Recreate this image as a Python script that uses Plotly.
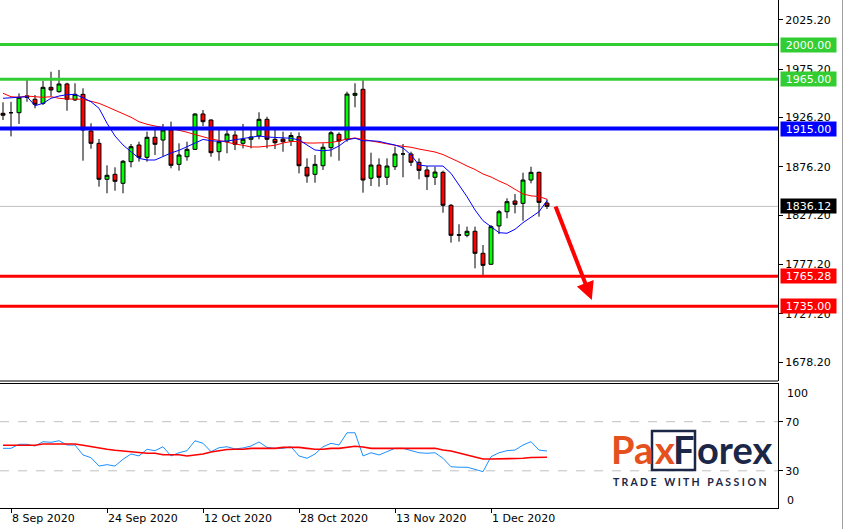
import pandas as pd
import plotly.graph_objects as go

# ---------------- data ----------------
dates = [d.strftime("%Y-%m-%d") for d in pd.bdate_range("2020-09-07", "2020-12-10")]

open_ = [1930.4, 1931.0, 1931.0, 1946.5, 1944.6, 1940.5, 1956.7, 1952.3, 1960.1, 1943.9,
         1949.6, 1912.5, 1900.0, 1863.6, 1868.6, 1859.5, 1881.4, 1898.3, 1885.8, 1906.1,
         1903.3, 1913.5, 1878.7, 1886.4, 1893.9, 1929.7, 1923.6, 1891.5, 1901.6, 1908.4,
         1900.0, 1904.1, 1907.4, 1924.3, 1904.1, 1904.3, 1902.3, 1906.7, 1875.7, 1868.6,
         1877.3, 1895.6, 1909.1, 1904.1, 1948.6, 1954.7, 1864.6, 1878.0, 1865.6, 1876.3,
         1889.2, 1889.2, 1880.8, 1873.0, 1865.6, 1870.6, 1837.2, 1807.4, 1806.8, 1810.9,
         1788.6, 1777.5, 1816.3, 1830.7, 1841.6, 1839.2, 1862.8, 1870.6, 1839.5]
high = [1941.5, 1942.0, 1950.6, 1964.1, 1948.9, 1963.4, 1972.5, 1974.3, 1961.4, 1960.8,
        1955.7, 1920.3, 1904.4, 1877.7, 1875.7, 1883.1, 1899.3, 1901.6, 1911.8, 1913.5,
        1919.6, 1921.9, 1900.0, 1901.6, 1930.4, 1933.7, 1924.3, 1914.2, 1914.2, 1912.8,
        1919.6, 1915.2, 1931.4, 1926.9, 1913.5, 1911.8, 1911.1, 1911.1, 1884.8, 1888.2,
        1900.0, 1912.5, 1911.1, 1952.3, 1960.8, 1964.1, 1890.5, 1884.8, 1884.8, 1896.6,
        1899.3, 1891.5, 1884.8, 1877.0, 1876.3, 1872.3, 1838.5, 1818.0, 1815.6, 1815.6,
        1797.0, 1817.3, 1832.5, 1844.3, 1848.7, 1870.2, 1876.3, 1871.3, 1843.3]
low = [1923.6, 1907.0, 1919.6, 1942.1, 1935.5, 1938.8, 1947.9, 1951.3, 1933.0, 1942.9,
       1882.4, 1894.5, 1856.1, 1849.4, 1852.0, 1849.4, 1875.7, 1881.4, 1881.4, 1888.2,
       1886.4, 1874.7, 1872.3, 1882.4, 1893.2, 1917.5, 1886.4, 1882.4, 1889.9, 1893.2,
       1894.9, 1894.9, 1904.1, 1894.9, 1894.2, 1891.5, 1897.3, 1869.6, 1860.1, 1860.1,
       1873.0, 1886.4, 1882.4, 1901.6, 1936.5, 1850.0, 1856.8, 1856.1, 1857.8, 1873.0,
       1865.6, 1877.0, 1863.6, 1852.7, 1857.8, 1829.7, 1799.4, 1800.4, 1804.8, 1773.4,
       1766.6, 1776.8, 1808.1, 1824.1, 1829.1, 1821.6, 1859.5, 1825.7, 1833.5]
close = [1928.4, 1931.0, 1946.6, 1948.0, 1939.5, 1956.7, 1954.0, 1960.1, 1944.6, 1949.6,
         1913.5, 1900.0, 1863.6, 1867.6, 1861.5, 1881.8, 1896.6, 1885.8, 1906.1, 1899.0,
         1913.5, 1877.7, 1888.2, 1893.9, 1929.7, 1921.9, 1890.5, 1901.6, 1909.4, 1899.0,
         1904.1, 1906.4, 1924.3, 1904.1, 1900.6, 1901.6, 1907.9, 1877.3, 1866.9, 1878.7,
         1896.0, 1910.7, 1902.3, 1949.9, 1950.6, 1862.8, 1878.0, 1865.6, 1877.0, 1889.2,
         1889.2, 1880.8, 1872.6, 1866.2, 1870.9, 1837.2, 1806.8, 1807.0, 1810.9, 1788.6,
         1776.4, 1815.6, 1830.7, 1840.9, 1838.2, 1862.8, 1870.6, 1840.2, 1836.2]

ma_fast = [1945.6, 1946.2, 1946.6, 1947.2, 1938.1, 1940.5, 1945.6, 1947.9, 1949.2, 1949.6,
           1946.2, 1942.1, 1935.5, 1920.3, 1907.4, 1898.3, 1891.5, 1884.8, 1883.1, 1883.1,
           1886.6, 1890.2, 1892.9, 1896.3, 1900.3, 1903.9, 1902.6, 1902.0, 1902.3, 1903.7,
           1905.1, 1906.4, 1907.4, 1906.4, 1906.1, 1905.7, 1905.1, 1903.4, 1898.3, 1893.2,
           1892.5, 1893.2, 1897.3, 1903.4, 1905.1, 1902.6, 1902.6, 1902.0, 1900.0, 1898.3,
           1895.3, 1888.2, 1878.0, 1877.0, 1877.0, 1877.0, 1869.6, 1857.8, 1845.9, 1832.5,
           1821.6, 1815.6, 1809.5, 1808.9, 1812.9, 1819.6, 1825.1, 1830.7, 1841.9]
ma_slow = [1950.7, 1947.2, 1946.6, 1947.9, 1947.2, 1946.6, 1947.2, 1945.6, 1944.9, 1944.9,
           1944.6, 1942.6, 1940.5, 1937.1, 1933.7, 1930.4, 1926.4, 1921.9, 1919.3, 1917.5,
           1916.2, 1915.2, 1913.2, 1911.2, 1908.9, 1906.7, 1904.4, 1902.9, 1900.8, 1899.3,
           1898.0, 1896.3, 1896.3, 1896.8, 1898.0, 1900.3, 1901.8, 1901.8, 1900.3, 1900.3,
           1900.3, 1900.8, 1902.3, 1904.4, 1905.4, 1903.9, 1902.0, 1900.3, 1899.0, 1898.0,
           1897.0, 1896.0, 1894.2, 1892.6, 1891.2, 1888.6, 1885.1, 1881.1, 1877.0, 1873.5,
           1868.9, 1865.9, 1861.8, 1858.3, 1853.4, 1848.7, 1846.8, 1846.1, 1843.3]

rsi = [48.3, 48.3, 51.6, 51.6, 50.2, 53.7, 53.2, 54.5, 51.0, 51.0,
       42.9, 40.7, 33.9, 35.0, 33.9, 39.4, 43.7, 42.1, 47.5, 46.4,
       49.6, 42.1, 44.7, 46.4, 54.5, 52.4, 45.6, 48.8, 49.6, 47.8,
       48.6, 50.2, 53.5, 49.1, 48.3, 48.3, 49.6, 42.1, 40.2, 43.7,
       49.6, 52.4, 51.0, 61.0, 61.0, 42.1, 44.7, 42.9, 45.6, 48.3,
       48.3, 46.4, 44.7, 44.3, 44.7, 40.2, 33.3, 32.9, 32.9, 31.2,
       29.3, 41.5, 44.7, 46.4, 46.9, 51.0, 53.7, 46.9, 46.1]
rsi_signal = [50.8, 50.8, 50.8, 50.8, 50.8, 51.8, 51.8, 51.8, 51.8, 51.8,
              50.8, 49.6, 48.8, 47.5, 46.7, 46.1, 45.1, 45.1, 44.3, 44.3,
              43.1, 43.1, 43.1, 42.1, 42.6, 43.7, 45.3, 46.4, 47.4, 47.5,
              47.5, 48.3, 48.3, 48.3, 48.3, 49.1, 49.1, 49.1, 48.3, 47.5,
              47.5, 48.3, 48.3, 49.1, 50.0, 49.4, 48.3, 48.3, 48.3, 48.3,
              48.3, 48.3, 48.3, 48.3, 48.3, 46.9, 46.1, 44.5, 42.9, 41.2,
              39.6, 39.6, 39.6, 39.6, 39.6, 40.2, 40.8, 41.0, 41.0]

level_values = [2000.00, 1965.00, 1915.00, 1765.28, 1735.00]
level_colors = ["#32CD32", "#32CD32", "#0000FF", "#FF0000", "#FF0000"]
level_widths = [3, 3, 4, 3, 3]
last_price = 1836.12

price_ticks = [1678.20, 1727.20, 1777.20, 1827.20, 1876.20, 1926.20, 1975.20, 2025.20]
date_ticks = ["2020-09-08", "2020-09-24", "2020-10-12", "2020-10-28", "2020-11-13", "2020-12-01"]
date_labels = ["8 Sep 2020", "24 Sep 2020", "12 Oct 2020", "28 Oct 2020", "13 Nov 2020", "1 Dec 2020"]

arrow_from = (69.0, 1837.5)   # (bar index, price)
arrow_to = (73.6, 1741.3)

# ---------------- geometry ----------------
W, H = 843, 529
PLOT_W, PLOT_H = 778, 508


def px(x):
    return x / PLOT_W


def py(y):
    return (PLOT_H - y) / PLOT_H


FONT = "DejaVu Sans"

fig = go.Figure()

fig.add_trace(go.Candlestick(
    x=dates, open=open_, high=high, low=low, close=close,
    increasing=dict(line=dict(color="black", width=1), fillcolor="#00FF00"),
    decreasing=dict(line=dict(color="black", width=1), fillcolor="#FF0000"),
    whiskerwidth=0, xaxis="x", yaxis="y", showlegend=False, hoverinfo="skip"))
fig.add_trace(go.Scatter(x=dates, y=ma_slow, mode="lines", line=dict(color="#FF0000", width=1),
                         xaxis="x", yaxis="y", showlegend=False, hoverinfo="skip"))
fig.add_trace(go.Scatter(x=dates, y=ma_fast, mode="lines", line=dict(color="#0000FF", width=1),
                         xaxis="x", yaxis="y", showlegend=False, hoverinfo="skip"))
fig.add_trace(go.Scatter(x=dates, y=rsi, mode="lines", line=dict(color="#1E90FF", width=1),
                         xaxis="x", yaxis="y2", showlegend=False, hoverinfo="skip"))
fig.add_trace(go.Scatter(x=dates, y=rsi_signal, mode="lines", line=dict(color="#FF0000", width=1.6),
                         xaxis="x", yaxis="y2", showlegend=False, hoverinfo="skip"))

shapes = []
# current price line
shapes.append(dict(type="line", xref="x domain", yref="y", x0=0, x1=1, y0=last_price, y1=last_price,
                   line=dict(color="#C0C0C0", width=1), layer="below"))
for v, c, w in zip(level_values, level_colors, level_widths):
    shapes.append(dict(type="line", xref="x domain", yref="y", x0=0, x1=1, y0=v, y1=v,
                       line=dict(color=c, width=w)))
# indicator levels
for v in (70, 30):
    shapes.append(dict(type="line", xref="x domain", yref="y2", x0=0, x1=1, y0=v, y1=v,
                       line=dict(color="#C0C0C0", width=1, dash="dash"), layer="below"))
# panel separators
shapes.append(dict(type="line", xref="paper", yref="paper", x0=0, x1=1, y0=py(381), y1=py(381),
                   line=dict(color="black", width=1)))
shapes.append(dict(type="line", xref="paper", yref="paper", x0=px(842.5), x1=px(842.5), y0=py(0), y1=py(529),
                   line=dict(color="#A0A0A0", width=1)))
# logo box
shapes.append(dict(type="rect", xref="paper", yref="paper", x0=px(652), x1=px(695), y0=py(470), y1=py(431),
                   line=dict(color="#1B2747", width=2.5)))

annotations = []
for v, c in zip(level_values, level_colors):
    annotations.append(dict(xref="paper", yref="y", x=px(780), y=v, xanchor="left", yanchor="middle",
                            text=f"{v:.2f}", showarrow=False, bgcolor=c, width=53, height=12, borderpad=1,
                            font=dict(family=FONT, size=11, color="white")))
annotations.append(dict(xref="paper", yref="y", x=px(780), y=last_price, xanchor="left", yanchor="middle",
                        text=f"{last_price:.2f}", showarrow=False, bgcolor="black", width=53, height=12,
                        borderpad=1, font=dict(family=FONT, size=11, color="white")))
# indicator extreme labels (placed inside like the terminal does)
annotations.append(dict(xref="paper", yref="paper", x=px(785), y=py(393), xanchor="left", yanchor="middle",
                        text="100", showarrow=False, font=dict(family=FONT, size=11, color="black")))
annotations.append(dict(xref="paper", yref="paper", x=px(785), y=py(500), xanchor="left", yanchor="middle",
                        text="0", showarrow=False, font=dict(family=FONT, size=11, color="black")))
# arrow
annotations.append(dict(xref="x", yref="y", axref="x", ayref="y", x=arrow_to[0], y=arrow_to[1],
                        ax=arrow_from[0], ay=arrow_from[1], text="", showarrow=True, arrowhead=2,
                        arrowsize=0.9, arrowwidth=4, arrowcolor="#FF0000"))
# logo
ORANGE, NAVY = "#E4501E", "#1B2747"
LOGO = dict(family="Lato", size=38, weight="bold")
annotations.append(dict(xref="paper", yref="paper", x=px(609), y=py(449), xanchor="left", yanchor="middle",
                        text="Pa", showarrow=False, font=dict(LOGO, color=ORANGE)))
annotations.append(dict(xref="paper", yref="paper", x=px(665), y=py(449), xanchor="center", yanchor="middle",
                        text="x", showarrow=False, font=dict(LOGO, color=ORANGE)))
annotations.append(dict(xref="paper", yref="paper", x=px(684), y=py(449), xanchor="center", yanchor="middle",
                        text="F", showarrow=False, font=dict(LOGO, color=NAVY)))
annotations.append(dict(xref="paper", yref="paper", x=px(695), y=py(449), xanchor="left", yanchor="middle",
                        text="orex", showarrow=False, font=dict(LOGO, color=NAVY)))
annotations.append(dict(xref="paper", yref="paper", x=px(690), y=py(482), xanchor="center", yanchor="middle",
                        text="T R A D E   W I T H   P A S S I O N", showarrow=False,
                        font=dict(family="Lato", size=10.5, color=NAVY, weight="bold")))

fig.update_layout(
    width=W, height=H,
    margin=dict(l=0, r=W - PLOT_W, t=0, b=H - PLOT_H, pad=0),
    paper_bgcolor="white", plot_bgcolor="white",
    showlegend=False,
    xaxis=dict(type="category", range=[-0.375, 96.875], anchor="y2", rangeslider=dict(visible=False),
               tickmode="array", tickvals=date_ticks, ticktext=date_labels,
               ticks="outside", ticklen=4, tickcolor="black", ticklabelposition="outside right",
               showgrid=False, showline=True, linecolor="black", linewidth=1, mirror=True,
               tickfont=dict(family=FONT, size=11, color="black"), zeroline=False),
    yaxis=dict(domain=[py(381), 1], range=[1659.27, 2045.15], side="right", anchor="x",
               tickmode="array", tickvals=price_ticks, ticktext=[f"{v:.2f}" for v in price_ticks],
               ticks="outside", ticklen=4, tickcolor="black", showgrid=False, zeroline=False,
               showline=True, linecolor="black", linewidth=1,
               tickfont=dict(family=FONT, size=11, color="black")),
    yaxis2=dict(domain=[0, py(384)], range=[-0.3, 100.71], side="right", anchor="x",
                tickmode="array", tickvals=[70, 30], ticktext=["70", "30"],
                ticks="outside", ticklen=4, tickcolor="black", showgrid=False, zeroline=False,
                showline=True, linecolor="black", linewidth=1,
                tickfont=dict(family=FONT, size=11, color="black")),
    shapes=shapes, annotations=annotations,
)

fig.write_html("out.html", config={"displayModeBar": False},
               post_script="document.body.style.margin='0';document.body.style.overflow='hidden';")
